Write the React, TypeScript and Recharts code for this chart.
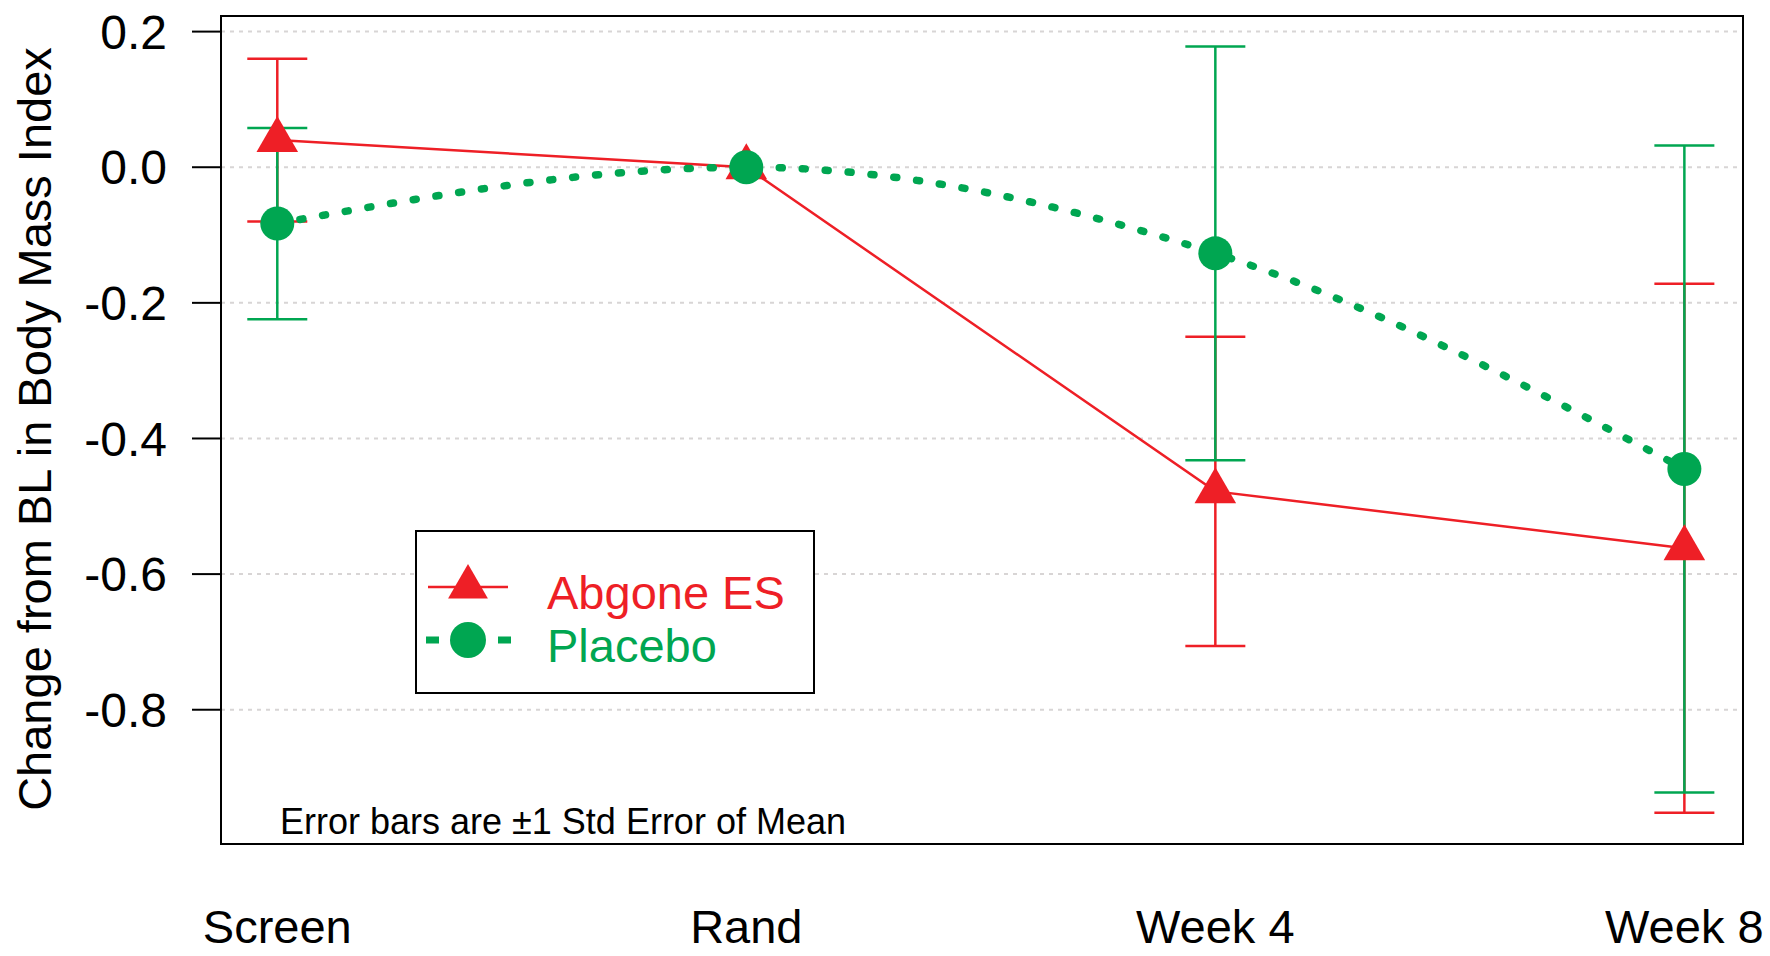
import React from 'react';
import { ComposedChart, Line, XAxis, YAxis, CartesianGrid, ErrorBar, Legend, ReferenceArea } from 'recharts';

// visits on the x axis
const visits = ['Screen', 'Rand', 'Week 4', 'Week 8'];

// change from baseline in BMI, mean and standard error
const abgoneMean = [0.04, 0, -0.478, -0.562];
const abgoneSe = [0.12, 0, 0.228, 0.39];
const placeboMean = [-0.083, 0, -0.127, -0.445];
const placeboSe = [0.141, 0, 0.305, 0.477];

const yTicks = [0.2, 0, -0.2, -0.4, -0.6, -0.8];
const xTicks = [1, 2, 3, 4];

const RED = '#ee1f26';
const GREEN = '#00a651';
const FONT = '"Liberation Sans", Arial, Helvetica, sans-serif';

const xDomain: [number, number] = [0.88, 4.125];
const yDomain: [number, number] = [-0.998, 0.223];

const data = visits.map((visit, i) => ({
  x: i + 1,
  visit,
  abgone: abgoneMean[i],
  abgoneSe: abgoneSe[i],
  placebo: placeboMean[i],
  placeboSe: placeboSe[i],
}));

const triPoints = (cx: number, cy: number, r: number) => {
  const h = (r * Math.sqrt(3)) / 2;
  return `${cx},${cy - r} ${cx + h},${cy + r / 2} ${cx - h},${cy + r / 2}`;
};

const TriangleDot = (props: any) => {
  const { cx, cy } = props;
  if (cx == null || cy == null) return null;
  return <polygon points={triPoints(cx, cy, 24)} fill={RED} />;
};

const CircleDot = (props: any) => {
  const { cx, cy } = props;
  if (cx == null || cy == null) return null;
  return <circle cx={cx} cy={cy} r={17} fill={GREEN} />;
};

const LegendBox = () => (
  <svg width={400} height={164} style={{ display: 'block' }}>
    <rect x={1} y={1} width={398} height={162} fill="#fff" stroke="#000" strokeWidth={2} />
    <line x1={13} x2={93} y1={57} y2={57} stroke={RED} strokeWidth={2.5} />
    <polygon points={triPoints(53, 57, 23)} fill={RED} />
    <text x={132} y={79} fill={RED} fontSize={47} fontFamily={FONT}>Abgone ES</text>
    <line x1={11} x2={97} y1={110} y2={110} stroke={GREEN} strokeWidth={7} strokeDasharray="13 59" />
    <circle cx={53} cy={110} r={18} fill={GREEN} />
    <text x={132} y={132} fill={GREEN} fontSize={47} fontFamily={FONT}>Placebo</text>
  </svg>
);

export default function App() {
  return (
    <div style={{ width: 1770, height: 956, background: '#fff' }}>
      <style>{`body{margin:0}`}</style>
      <ComposedChart
        width={1770}
        height={956}
        data={data}
        margin={{ top: 16, right: 27, bottom: 0, left: 0 }}
      >
        <CartesianGrid vertical={false} stroke="#d8d5d5" strokeDasharray="4 5" strokeWidth={2} />
        <XAxis
          dataKey="x"
          type="number"
          domain={xDomain}
          allowDataOverflow
          ticks={xTicks}
          interval={0}
          tickFormatter={(v: number) => visits[v - 1]}
          height={112}
          tickLine={false}
          tickSize={0}
          tickMargin={66}
          axisLine={{ stroke: '#000', strokeWidth: 2 }}
          tick={{ fill: '#000', fontSize: 47, fontFamily: FONT }}
        />
        <YAxis
          type="number"
          domain={yDomain}
          allowDataOverflow
          ticks={yTicks}
          interval={0}
          tickFormatter={(v: number) => v.toFixed(1)}
          width={221}
          tickSize={29}
          tickMargin={25}
          tickLine={{ stroke: '#000', strokeWidth: 2 }}
          axisLine={{ stroke: '#000', strokeWidth: 2 }}
          tick={{ fill: '#000', fontSize: 48, fontFamily: FONT }}
        />
        {/* plot frame */}
        <ReferenceArea
          x1={xDomain[0]}
          x2={xDomain[1]}
          y1={yDomain[0]}
          y2={yDomain[1]}
          ifOverflow="visible"
          fill="none"
          fillOpacity={0}
          stroke="#000"
          strokeWidth={2}
        />
        <Line
          dataKey="abgone"
          name="Abgone ES"
          type="linear"
          stroke={RED}
          strokeWidth={2.5}
          dot={<TriangleDot />}
          activeDot={false}
          isAnimationActive={false}
        >
          <ErrorBar dataKey="abgoneSe" direction="y" width={30} stroke={RED} strokeWidth={2.5} />
        </Line>
        <Line
          dataKey="placebo"
          name="Placebo"
          type="monotone"
          stroke={GREEN}
          strokeWidth={7.5}
          strokeDasharray="3 20"
          strokeLinecap="round"
          dot={<CircleDot />}
          activeDot={false}
          isAnimationActive={false}
        >
          <ErrorBar dataKey="placeboSe" direction="y" width={30} stroke={GREEN} strokeWidth={2.5} />
        </Line>
        <Legend
          layout="vertical"
          align="center"
          verticalAlign="middle"
          wrapperStyle={{ left: 415, top: 530, width: 400, height: 164 }}
          content={() => <LegendBox />}
        />
        <text x={280} y={834} fontSize={36} fontFamily={FONT} fill="#000">
          Error bars are ±1 Std Error of Mean
        </text>
        <text
          transform="rotate(-90)"
          x={-429}
          y={51}
          textAnchor="middle"
          fontSize={47}
          fontFamily={FONT}
          fill="#000"
        >
          Change from BL in Body Mass Index
        </text>
      </ComposedChart>
    </div>
  );
}
